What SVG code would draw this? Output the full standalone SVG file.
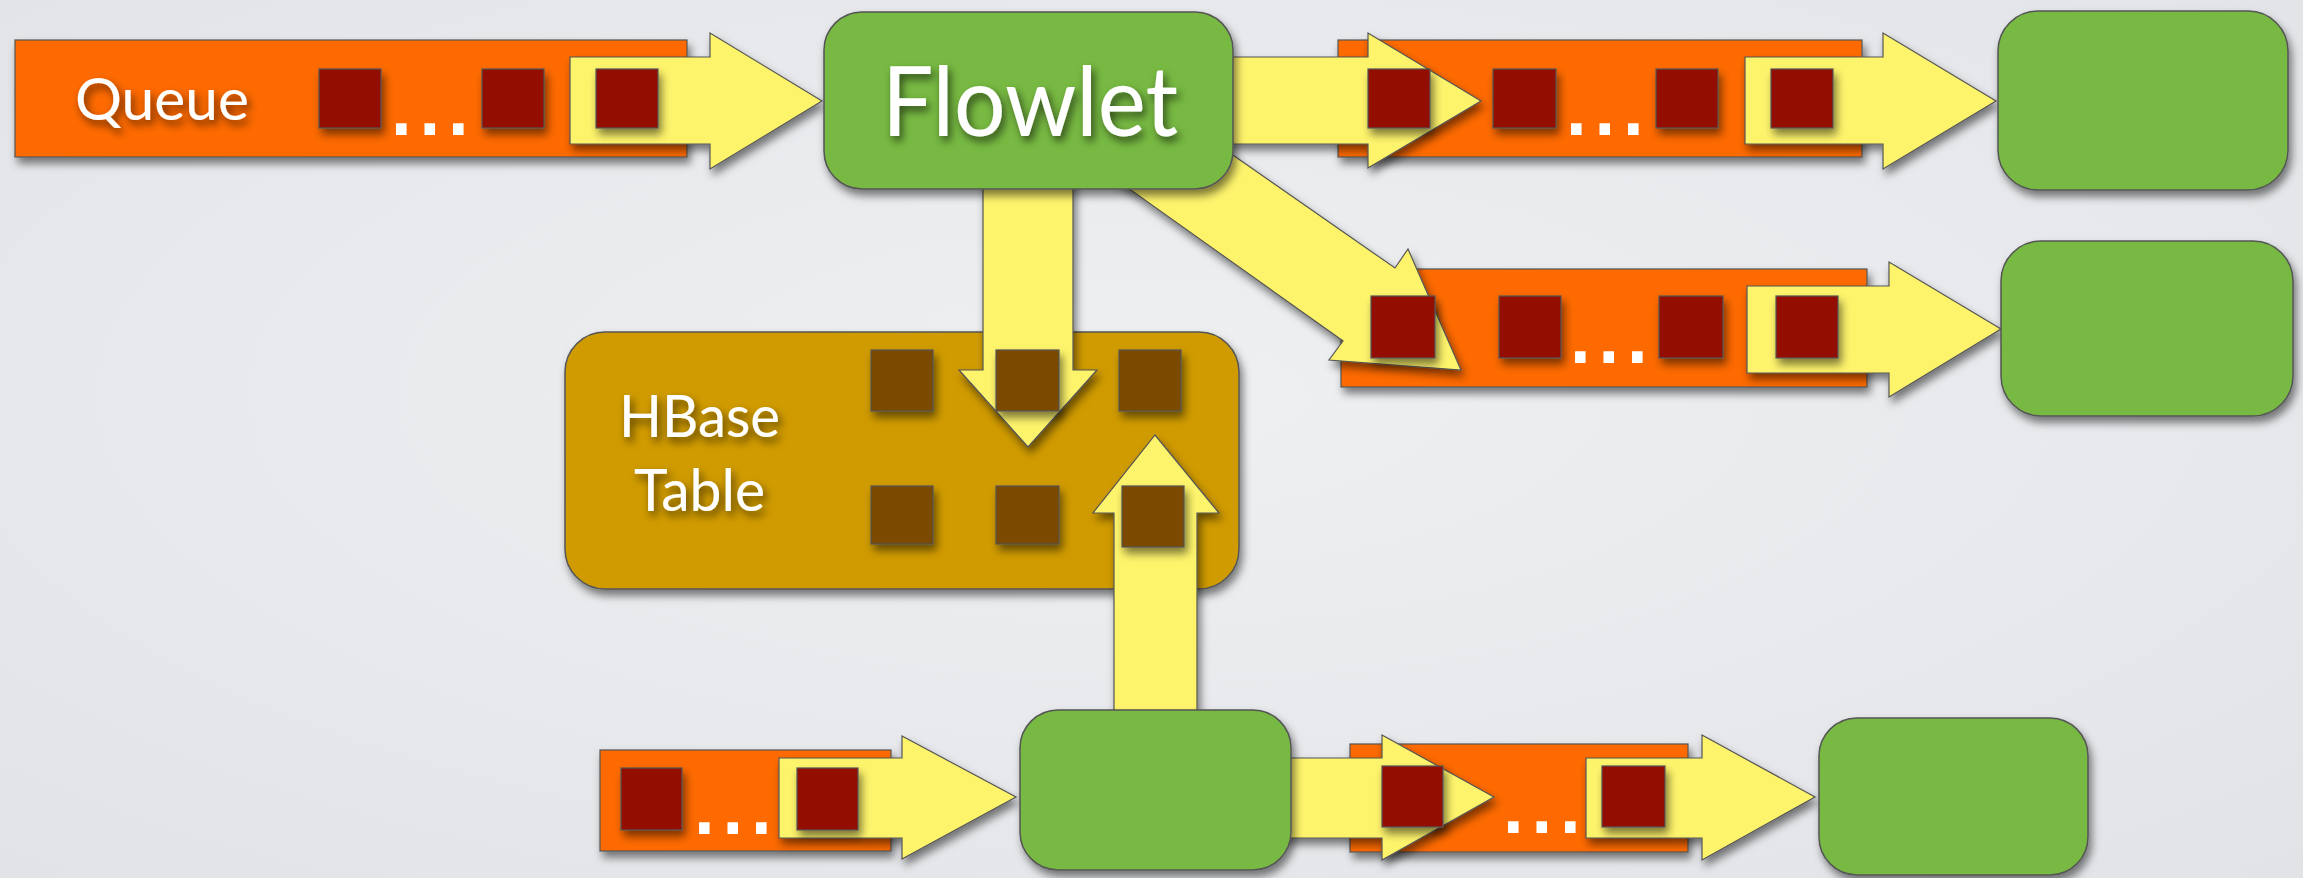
<svg xmlns="http://www.w3.org/2000/svg" width="2303" height="878" viewBox="0 0 2303 878">
  <defs>
    <radialGradient id="bg" cx="50%" cy="45%" r="75%">
      <stop offset="0" stop-color="#eef0f2"/>
      <stop offset="1" stop-color="#e1e3e7"/>
    </radialGradient>
    <filter id="shadow" x="-10%" y="-10%" width="130%" height="140%">
      <feDropShadow dx="3" dy="6" stdDeviation="4" flood-color="#000" flood-opacity="0.5"/>
    </filter>
    <filter id="textShadow" x="-10%" y="-20%" width="130%" height="150%">
      <feDropShadow dx="3" dy="5" stdDeviation="4" flood-color="#000" flood-opacity="0.6"/>
    </filter>
    <style>
      .queue { fill: #fe6a00; stroke: #555; stroke-width: 1.2; }
      .item { fill: #931100; stroke: #555; stroke-width: 1.2; }
      .cell { fill: #7b4900; stroke: #555; stroke-width: 1.2; }
      .flowlet { fill: #77b943; stroke: #555; stroke-width: 1.5; }
      .table { fill: #d09b00; stroke: #555; stroke-width: 1.5; }
      .arrow { fill: #fef46c; stroke: #555; stroke-width: 1.2; stroke-linejoin: miter; }
      .label { fill: #fff; font-family: Lato, "Liberation Sans", sans-serif; }
      .dots { fill: #fff; font-family: "Liberation Sans", Arial, sans-serif; font-size: 110px; letter-spacing: -2px; }
    </style>
  </defs>

  <rect width="2303" height="878" fill="url(#bg)"/>

  <!-- table and queue bodies -->
  <g id="hbase-table" filter="url(#shadow)">
    <rect class="table" x="565" y="332" width="674" height="257" rx="40" ry="40"/>
  </g>
  <g id="queue-in" filter="url(#shadow)">
    <rect class="queue" x="15" y="40" width="672" height="117"/>
  </g>
  <g id="queue-out-1" filter="url(#shadow)">
    <rect class="queue" x="1338" y="40" width="524" height="117"/>
  </g>
  <g id="queue-out-2" filter="url(#shadow)">
    <rect class="queue" x="1341" y="269" width="526" height="118"/>
  </g>
  <g id="queue-in-2" filter="url(#shadow)">
    <rect class="queue" x="600" y="750" width="291" height="101"/>
  </g>
  <g id="queue-out-3" filter="url(#shadow)">
    <rect class="queue" x="1350" y="744" width="338" height="108"/>
  </g>

  <!-- connectors -->
  <g id="connectors" filter="url(#shadow)">
    <polygon class="arrow" points="570,57 710,57 710,33 822,101 710,169 710,144 570,144"/>
    <polygon class="arrow" points="1200,57 1368,57 1368,33 1481,101 1368,168 1368,144 1200,144"/>
    <polygon class="arrow" points="1745,57 1883,57 1883,33 1996,101 1883,169 1883,144 1745,144"/>
    <polygon class="arrow" points="1184,121 1395,268 1408,249 1461,370 1329,360 1343,341 1083,156"/>
    <polygon class="arrow" points="1747,286 1889,286 1889,262 2001,329 1889,397 1889,373 1747,373"/>
    <polygon class="arrow" points="983,150 1073,150 1073,370 1097,370 1028,447 959,370 983,370"/>
    <polygon class="arrow" points="1155,435 1219,513 1197,513 1197,760 1114,760 1114,513 1093,513"/>
    <polygon class="arrow" points="779,758 902,758 902,736 1016,797 902,859 902,838 779,838"/>
    <polygon class="arrow" points="1260,758 1382,758 1382,735 1494,797 1382,860 1382,838 1260,838"/>
    <polygon class="arrow" points="1586,758 1702,758 1702,735 1815,797 1702,860 1702,838 1586,838"/>
  </g>

  <!-- queued items -->
  <g id="queue-in-items">
    <g filter="url(#shadow)">
      <rect class="item" x="319" y="69" width="62" height="59"/>
      <rect class="item" x="482" y="69" width="62" height="59"/>
      <rect class="item" x="596" y="69" width="62" height="59"/>
    </g>
    <text class="dots" x="386" y="135">...</text>
  </g>
  <g id="queue-out-1-items">
    <g filter="url(#shadow)">
      <rect class="item" x="1368" y="69" width="62" height="59"/>
      <rect class="item" x="1493" y="69" width="63" height="59"/>
      <rect class="item" x="1656" y="69" width="62" height="59"/>
      <rect class="item" x="1771" y="69" width="62" height="59"/>
    </g>
    <text class="dots" x="1561" y="135">...</text>
  </g>
  <g id="queue-out-2-items">
    <g filter="url(#shadow)">
      <rect class="item" x="1371" y="296" width="64" height="62"/>
      <rect class="item" x="1499" y="296" width="62" height="62"/>
      <rect class="item" x="1659" y="296" width="64" height="62"/>
      <rect class="item" x="1776" y="296" width="62" height="62"/>
    </g>
    <text class="dots" x="1565" y="363">...</text>
  </g>
  <g id="queue-in-2-items">
    <g filter="url(#shadow)">
      <rect class="item" x="621" y="768" width="61" height="62"/>
      <rect class="item" x="797" y="768" width="61" height="62"/>
    </g>
    <text class="dots" x="689" y="834">...</text>
  </g>
  <g id="queue-out-3-items">
    <g filter="url(#shadow)">
      <rect class="item" x="1382" y="766" width="61" height="61"/>
      <rect class="item" x="1602" y="766" width="63" height="61"/>
    </g>
    <text class="dots" x="1498" y="833">...</text>
  </g>
  <g id="hbase-table-cells" filter="url(#shadow)">
    <rect class="cell" x="871" y="350" width="62" height="61"/>
    <rect class="cell" x="996" y="350" width="63" height="61"/>
    <rect class="cell" x="1119" y="350" width="62" height="61"/>
    <rect class="cell" x="871" y="486" width="62" height="58"/>
    <rect class="cell" x="996" y="486" width="63" height="58"/>
    <rect class="cell" x="1122" y="486" width="62" height="61"/>
  </g>

  <!-- flowlets -->
  <g id="flowlet-main">
    <rect class="flowlet" x="824" y="12" width="409" height="177" rx="38" ry="38" filter="url(#shadow)"/>
    <text class="label" x="882" y="136" font-size="96" textLength="296" lengthAdjust="spacingAndGlyphs" filter="url(#textShadow)">Flowlet</text>
  </g>
  <g id="flowlet-out-1" filter="url(#shadow)">
    <rect class="flowlet" x="1998" y="11" width="290" height="179" rx="40" ry="40"/>
  </g>
  <g id="flowlet-out-2" filter="url(#shadow)">
    <rect class="flowlet" x="2001" y="241" width="292" height="175" rx="40" ry="40"/>
  </g>
  <g id="flowlet-writer" filter="url(#shadow)">
    <rect class="flowlet" x="1020" y="710" width="271" height="160" rx="38" ry="38"/>
  </g>
  <g id="flowlet-out-3" filter="url(#shadow)">
    <rect class="flowlet" x="1819" y="718" width="269" height="157" rx="38" ry="38"/>
  </g>

  <!-- labels -->
  <g id="labels" filter="url(#textShadow)">
    <text class="label" x="75" y="120" font-size="58" textLength="174" lengthAdjust="spacingAndGlyphs">Queue</text>
    <text class="label" x="619" y="437" font-size="58" textLength="161" lengthAdjust="spacingAndGlyphs">HBase</text>
    <text class="label" x="634" y="511" font-size="58" textLength="131" lengthAdjust="spacingAndGlyphs">Table</text>
  </g>
</svg>
